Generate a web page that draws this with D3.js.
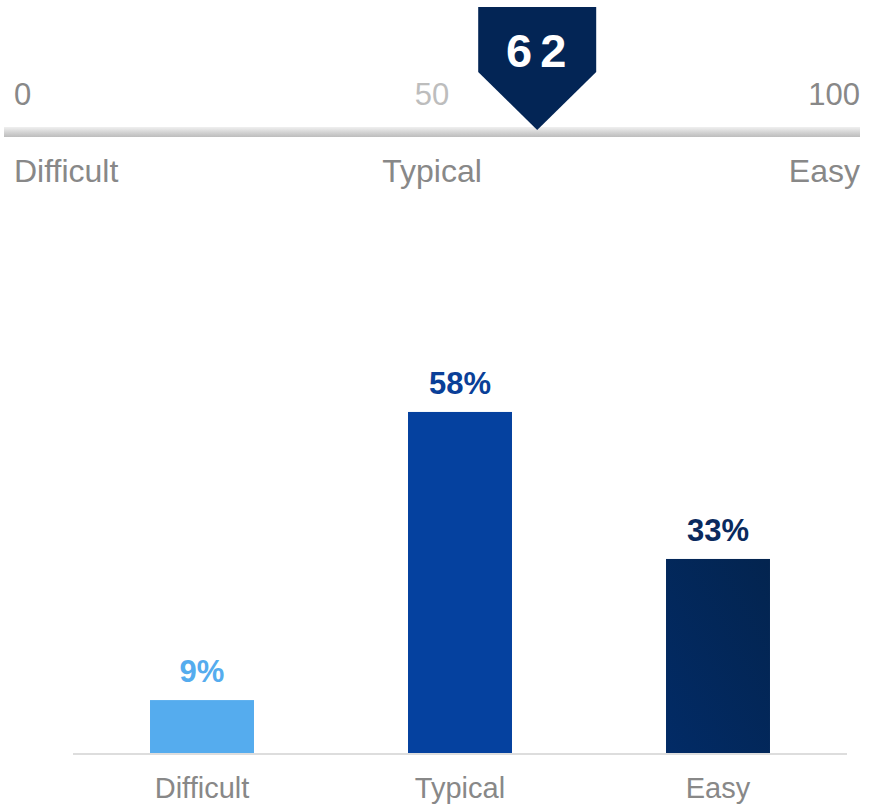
<!DOCTYPE html>
<html><head><meta charset="utf-8">
<script src="https://cdn.jsdelivr.net/npm/d3@7"></script>
<style>body{margin:0;background:#fff}svg{display:block}</style>
</head><body><svg id="c" width="869" height="804"></svg>
<script>
const gaugeScore = 62;
const gaugeTicks = [0, 50, 100];
const gaugeTickColors = ["#888888", "#bdbdbd", "#888888"];
const gaugeLabels = ["Difficult", "Typical", "Easy"];
const categories = ["Difficult", "Typical", "Easy"];
const values = [9, 58, 33];
const barColors = ["#55acee", "#05419f", "#03265a"];
const labelColors = ["#55acee", "#0a3f98", "#0a2a5e"];

const svg = d3.select("#c");
const font = "Liberation Sans, Arial, sans-serif";
const defs = svg.append("defs");
const lg = defs.append("linearGradient").attr("id","gl").attr("x1",0).attr("y1",0).attr("x2",0).attr("y2",1);
lg.append("stop").attr("offset","0%").attr("stop-color","#f0f0f0");
lg.append("stop").attr("offset","60%").attr("stop-color","#d0d0d0");
lg.append("stop").attr("offset","100%").attr("stop-color","#bdbdbd");
const bg = defs.append("linearGradient").attr("id","eb").attr("x1",0).attr("y1",1).attr("x2",1).attr("y2",0);
bg.append("stop").attr("offset","0%").attr("stop-color","#022b66");
bg.append("stop").attr("offset","100%").attr("stop-color","#03244f");

// Gauge
const gx = d3.scaleLinear().domain([0,100]).range([4,864]);
svg.append("rect").attr("x",gx(0)).attr("y",127).attr("width",gx(100)-gx(0)-4).attr("height",10).attr("fill","url(#gl)");
const anchors = ["start","middle","end"];
const tickX = [14, gx(50)-2, 860];
svg.selectAll("text.gt").data(gaugeTicks).join("text").attr("class","gt")
  .attr("x",(d,i)=>tickX[i]).attr("y",105).attr("text-anchor",(d,i)=>anchors[i])
  .attr("font-family",font).attr("font-size",31).attr("fill",(d,i)=>gaugeTickColors[i]).text(d=>d);
svg.selectAll("text.gl").data(gaugeLabels).join("text").attr("class","gl")
  .attr("x",(d,i)=>tickX[i]).attr("y",182).attr("text-anchor",(d,i)=>anchors[i])
  .attr("font-family",font).attr("font-size",32).attr("fill","#888888").text(d=>d);
const mx = gx(gaugeScore);
svg.append("path").attr("d",`M${mx-59},7 L${mx+59},7 L${mx+59},72 L${mx},130 L${mx-59},72 Z`).attr("fill","#032555");
svg.append("text").attr("x",mx+3).attr("y",67).attr("text-anchor","middle").attr("font-family",font)
  .attr("font-weight","bold").attr("font-size",47).attr("letter-spacing",8).attr("fill","#fff").text(gaugeScore);

// Bars
const x = d3.scaleBand().domain(categories).range([73,847]).paddingInner(0.597).paddingOuter(0.2985);
const y = d3.scaleLinear().domain([0,100]).range([753,165]);
svg.append("line").attr("x1",73).attr("x2",847).attr("y1",754).attr("y2",754).attr("stroke","#dddddd").attr("stroke-width",2);
svg.selectAll("rect.bar").data(values).join("rect").attr("class","bar")
  .attr("x",(d,i)=>x(categories[i])).attr("width",x.bandwidth())
  .attr("y",d=>y(d)).attr("height",d=>y(0)-y(d))
  .attr("fill",(d,i)=>i===2?"url(#eb)":barColors[i]);
svg.selectAll("text.vl").data(values).join("text").attr("class","vl")
  .attr("x",(d,i)=>x(categories[i])+x.bandwidth()/2).attr("y",d=>y(d)-18)
  .attr("text-anchor","middle").attr("font-family",font).attr("font-weight","bold").attr("font-size",31)
  .attr("fill",(d,i)=>labelColors[i]).text(d=>d+"%");
svg.selectAll("text.cl").data(categories).join("text").attr("class","cl")
  .attr("x",d=>x(d)+x.bandwidth()/2).attr("y",798)
  .attr("text-anchor","middle").attr("font-family",font).attr("font-size",29)
  .attr("fill","#888888").text(d=>d);
</script></body></html>
